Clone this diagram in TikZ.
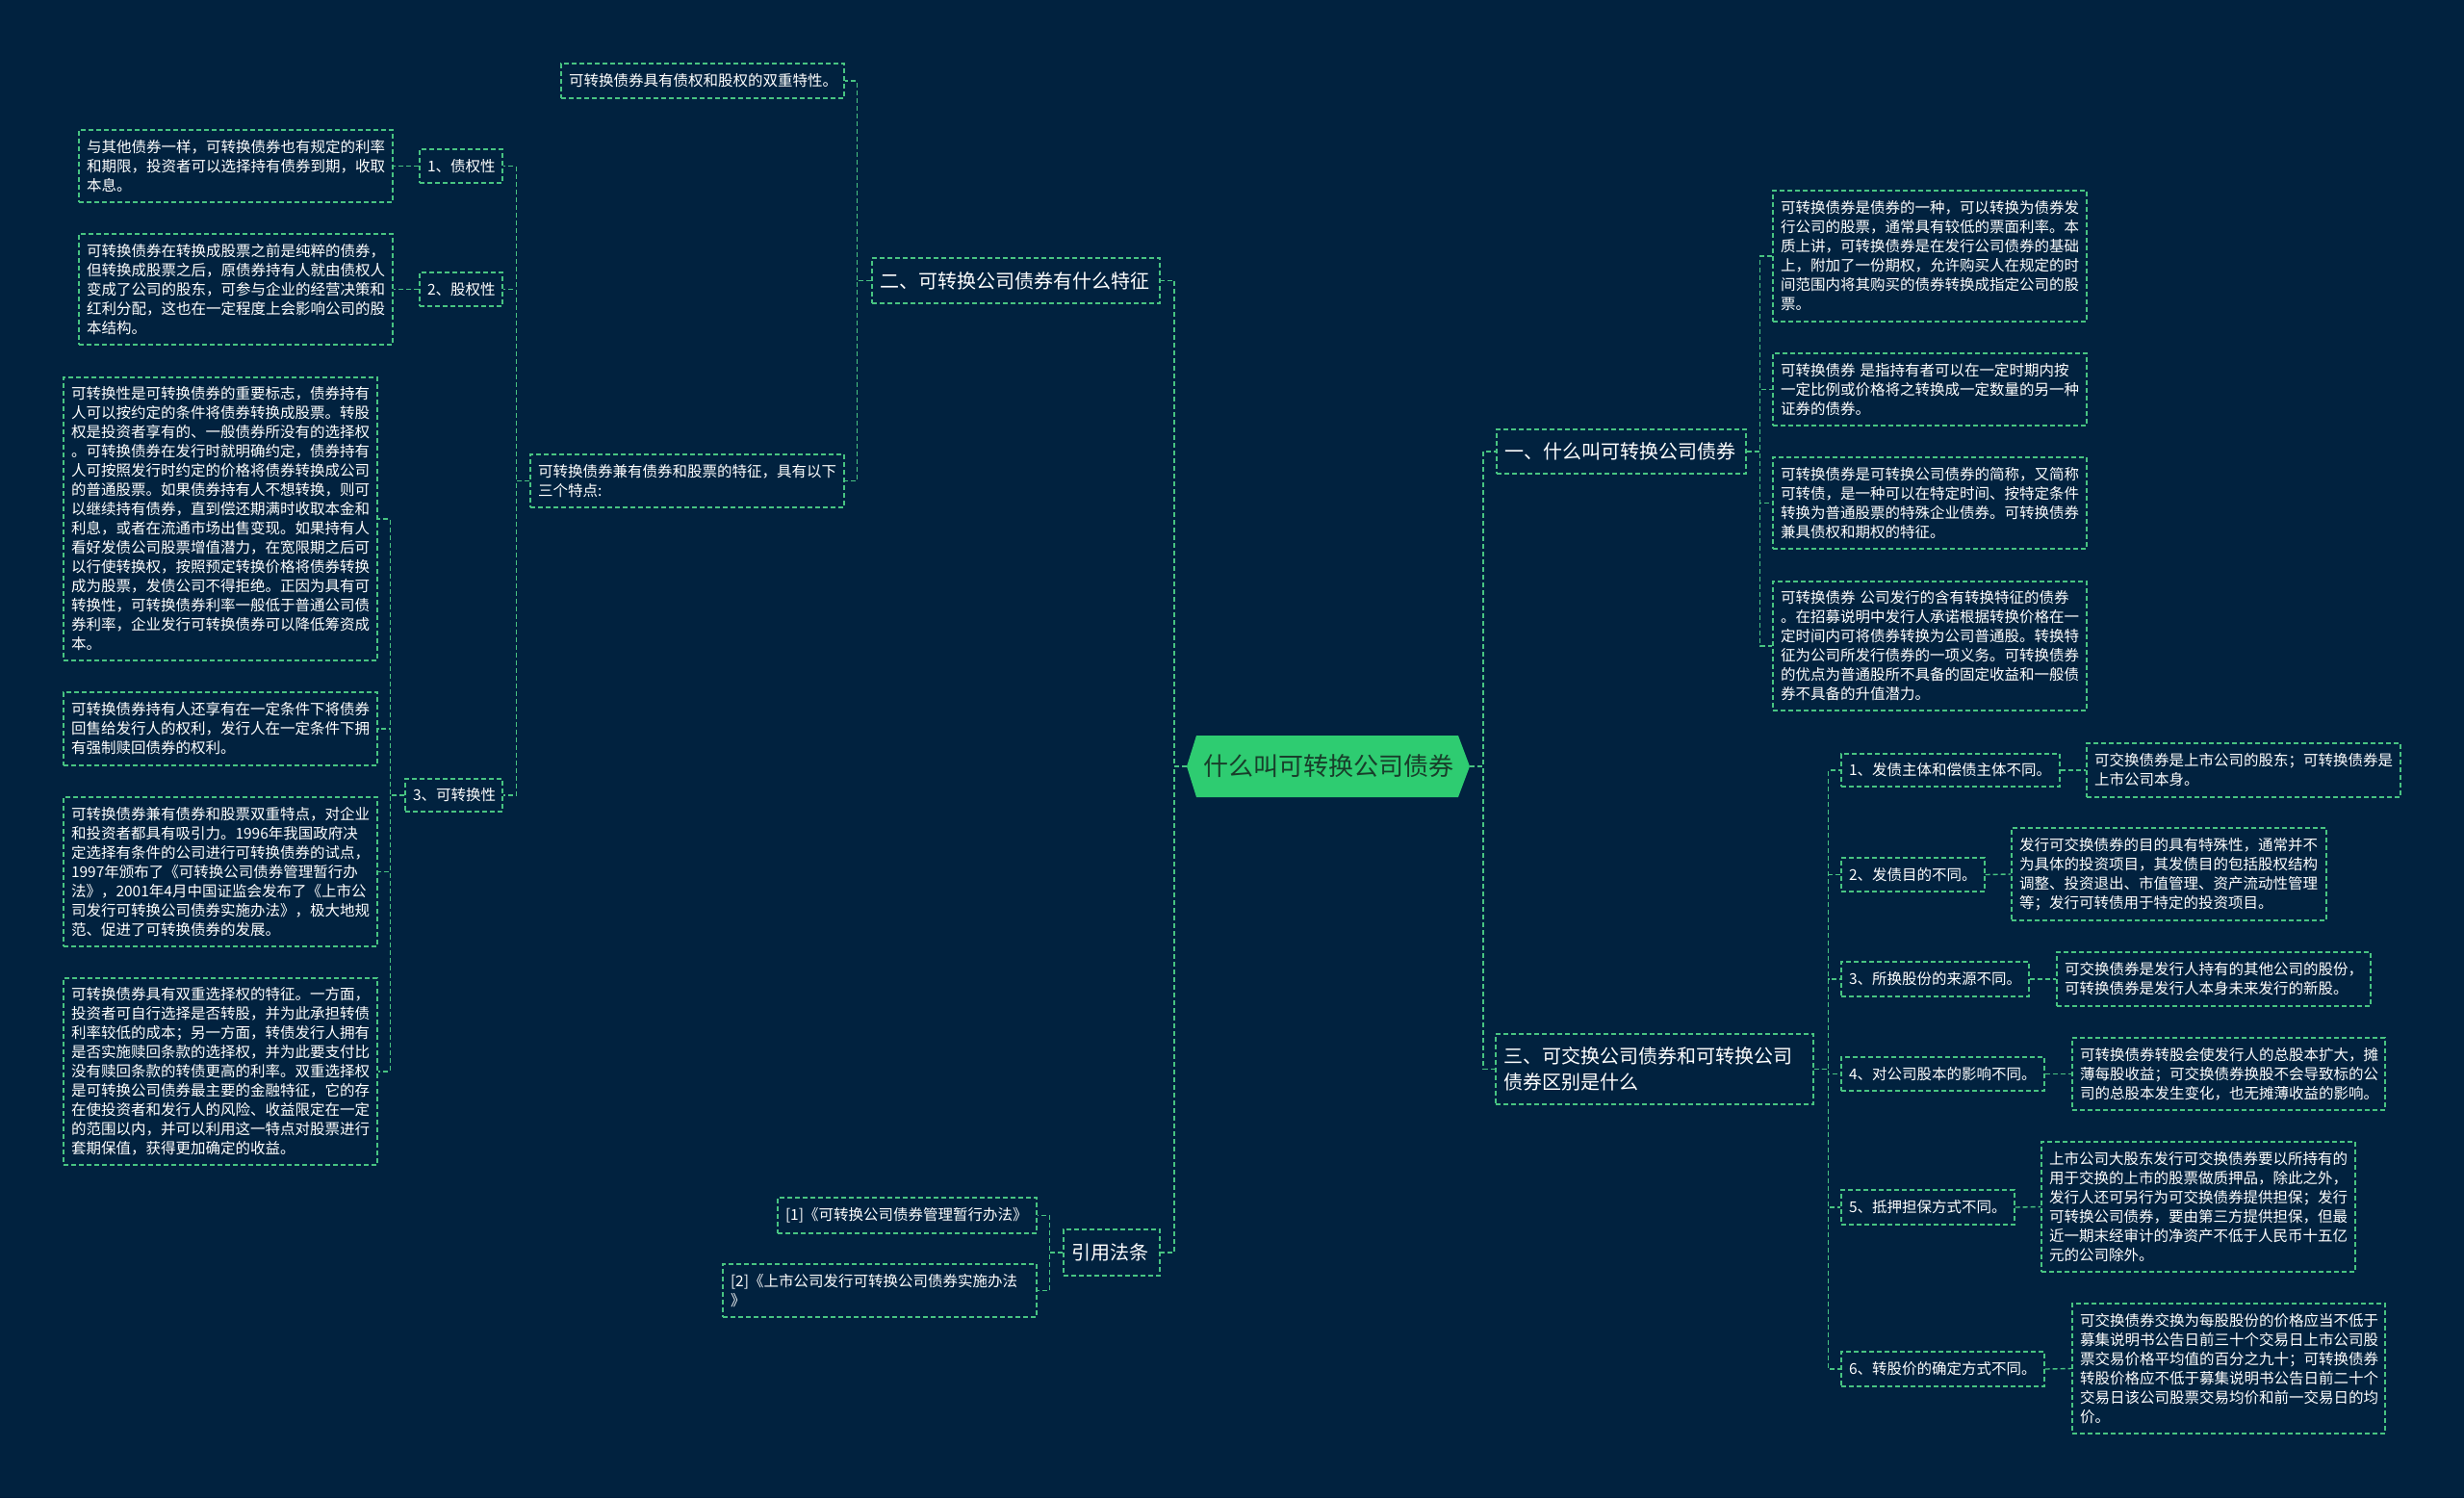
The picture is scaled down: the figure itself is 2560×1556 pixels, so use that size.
\documentclass[tikz,border=0pt]{standalone}
\usepackage{fontspec}
\newfontfamily\cjk{Noto Sans CJK SC}
\definecolor{bg}{RGB}{1,34,63}
\definecolor{lg}{RGB}{72,196,130}
\definecolor{cfill}{RGB}{46,204,113}
\definecolor{ctext}{RGB}{24,62,42}
\tikzset{
 box/.style={draw=lg, line width=1.4pt, dash pattern=on 5pt off 3pt, text=white, inner xsep=8pt, inner ysep=0pt, align=left, anchor=center, font=\cjk\fontsize{15.5}{20}\selectfont},
 head/.style={box, font=\cjk\fontsize{20}{27}\selectfont},
 conn/.style={draw=lg, line width=1.4pt, dash pattern=on 5pt off 3pt},
}
\newcommand\bx[7][box]{%
 \pgfmathsetmacro\bxw{#5-#3}\pgfmathsetmacro\bxh{#6-#4}%
 \pgfmathsetmacro\bxcx{(#3+#5)/2}\pgfmathsetmacro\bxcy{(#4+#6)/2}%
 \pgfmathsetmacro\bxtw{#5-#3-16}%
 \node[#1, minimum width=\bxw pt, minimum height=\bxh pt, text width=\bxtw pt] (#2) at (\bxcx,\bxcy) {#7};}
\begin{document}
\begin{tikzpicture}[x=1pt,y=-1pt]
\fill[bg] (0,0) rectangle (2560,1556);
\useasboundingbox (0,0) rectangle (2560,1556);
% center
\fill[cfill] (1233,796) -- (1243,764) -- (1515,764) -- (1527,796) -- (1515,828) -- (1243,828) -- cycle;
\node[text=ctext, font=\cjk\fontsize{26}{30}\selectfont, inner sep=0pt] (c) at (1380,796) {什么叫可转换公司债券};
\coordinate (cL) at (1233,796);
\coordinate (cR) at (1527,796);
% level 1
\bx[head]{n2}{906}{268}{1205}{315}{二、可转换公司债券有什么特征}
\bx[head]{n1}{1555}{446}{1814}{492}{一、什么叫可转换公司债券}
\bx[head]{n3}{1554}{1074}{1884}{1147}{三、可交换公司债券和可转换公司\\债券区别是什么}
\bx[head]{n4}{1105}{1277}{1205}{1325}{引用法条}
% branch 二
\bx{A1}{583}{66}{877}{102}{可转换债券具有债权和股权的双重特性。}
\bx{A2}{551}{472}{877}{527}{可转换债券兼有债券和股票的特征，具有以下\\三个特点:}
\bx{L1}{436}{155}{522}{190}{1、债权性}
\bx{L2}{436}{283}{522}{318}{2、股权性}
\bx{L3}{421}{809}{522}{843}{3、可转换性}
\bx{B1}{82}{135}{408}{210}{与其他债券一样，可转换债券也有规定的利率\\和期限，投资者可以选择持有债券到期，收取\\本息。}
\bx{B2}{82}{243}{408}{358}{可转换债券在转换成股票之前是纯粹的债券，\\但转换成股票之后，原债券持有人就由债权人\\变成了公司的股东，可参与企业的经营决策和\\红利分配，这也在一定程度上会影响公司的股\\本结构。}
\bx{C1}{66}{392}{392}{686}{可转换性是可转换债券的重要标志，债券持有\\人可以按约定的条件将债券转换成股票。转股\\权是投资者享有的、一般债券所没有的选择权\\。可转换债券在发行时就明确约定，债券持有\\人可按照发行时约定的价格将债券转换成公司\\的普通股票。如果债券持有人不想转换，则可\\以继续持有债券，直到偿还期满时收取本金和\\利息，或者在流通市场出售变现。如果持有人\\看好发债公司股票增值潜力，在宽限期之后可\\以行使转换权，按照预定转换价格将债券转换\\成为股票，发债公司不得拒绝。正因为具有可\\转换性，可转换债券利率一般低于普通公司债\\券利率，企业发行可转换债券可以降低筹资成\\本。}
\bx{C2}{66}{719}{392}{795}{可转换债券持有人还享有在一定条件下将债券\\回售给发行人的权利，发行人在一定条件下拥\\有强制赎回债券的权利。}
\bx{C3}{66}{828}{392}{983}{可转换债券兼有债券和股票双重特点，对企业\\和投资者都具有吸引力。1996年我国政府决\\定选择有条件的公司进行可转换债券的试点，\\1997年颁布了《可转换公司债券管理暂行办\\法》，2001年4月中国证监会发布了《上市公\\司发行可转换公司债券实施办法》，极大地规\\范、促进了可转换债券的发展。}
\bx{C4}{66}{1016}{392}{1210}{可转换债券具有双重选择权的特征。一方面，\\投资者可自行选择是否转股，并为此承担转债\\利率较低的成本；另一方面，转债发行人拥有\\是否实施赎回条款的选择权，并为此要支付比\\没有赎回条款的转债更高的利率。双重选择权\\是可转换公司债券最主要的金融特征，它的存\\在使投资者和发行人的风险、收益限定在一定\\的范围以内，并可以利用这一特点对股票进行\\套期保值，获得更加确定的收益。}
% branch 一
\bx{D1}{1842}{198}{2168}{334}{可转换债券是债券的一种，可以转换为债券发\\行公司的股票，通常具有较低的票面利率。本\\质上讲，可转换债券是在发行公司债券的基础\\上，附加了一份期权，允许购买人在规定的时\\间范围内将其购买的债券转换成指定公司的股\\票。}
\bx{D2}{1842}{367}{2168}{442}{可转换债券~是指持有者可以在一定时期内按\\一定比例或价格将之转换成一定数量的另一种\\证券的债券。}
\bx{D3}{1842}{475}{2168}{570}{可转换债券是可转换公司债券的简称，又简称\\可转债，是一种可以在特定时间、按特定条件\\转换为普通股票的特殊企业债券。可转换债券\\兼具债权和期权的特征。}
\bx{D4}{1842}{604}{2168}{738}{可转换债券~公司发行的含有转换特征的债券\\。在招募说明中发行人承诺根据转换价格在一\\定时间内可将债券转换为公司普通股。转换特\\征为公司所发行债券的一项义务。可转换债券\\的优点为普通股所不具备的固定收益和一般债\\券不具备的升值潜力。}
% branch 三
\bx{E1}{1913}{783}{2140}{817}{1、发债主体和偿债主体不同。}
\bx{E2}{1913}{891}{2062}{926}{2、发债目的不同。}
\bx{E3}{1913}{999}{2108}{1035}{3、所换股份的来源不同。}
\bx{E4}{1913}{1098}{2124}{1133}{4、对公司股本的影响不同。}
\bx{E5}{1913}{1236}{2093}{1272}{5、抵押担保方式不同。}
\bx{E6}{1913}{1404}{2124}{1440}{6、转股价的确定方式不同。}
\bx{F1}{2168}{772}{2494}{828}{可交换债券是上市公司的股东；可转换债券是\\上市公司本身。}
\bx{F2}{2090}{860}{2417}{956}{发行可交换债券的目的具有特殊性，通常并不\\为具体的投资项目，其发债目的包括股权结构\\调整、投资退出、市值管理、资产流动性管理\\等；发行可转债用于特定的投资项目。}
\bx{F3}{2137}{989}{2463}{1045}{可交换债券是发行人持有的其他公司的股份，\\可转换债券是发行人本身未来发行的新股。}
\bx{F4}{2153}{1078}{2478}{1153}{可转换债券转股会使发行人的总股本扩大，摊\\薄每股收益；可交换债券换股不会导致标的公\\司的总股本发生变化，也无摊薄收益的影响。}
\bx{F5}{2121}{1186}{2447}{1321}{上市公司大股东发行可交换债券要以所持有的\\用于交换的上市的股票做质押品，除此之外，\\发行人还可另行为可交换债券提供担保；发行\\可转换公司债券，要由第三方提供担保，但最\\近一期末经审计的净资产不低于人民币十五亿\\元的公司除外。}
\bx{F6}{2153}{1354}{2478}{1489}{可交换债券交换为每股股份的价格应当不低于\\募集说明书公告日前三十个交易日上市公司股\\票交易价格平均值的百分之九十；可转换债券\\转股价格应不低于募集说明书公告日前二十个\\交易日该公司股票交易均价和前一交易日的均\\价。}
% branch 引用法条
\bx{G1}{808}{1244}{1077}{1281}{[1]《可转换公司债券管理暂行办法》}
\bx{G2}{751}{1313}{1077}{1368}{[2]《上市公司发行可转换公司债券实施办法\\》}
% connectors
\draw[conn] (cL) -- ++(-13,0) |- (n2.east);
\draw[conn] (cL) -- ++(-13,0) |- (n4.east);
\draw[conn] (cR) -- ++(14,0) |- (n1.west);
\draw[conn] (cR) -- ++(14,0) |- (n3.west);
\foreach \ch in {A1,A2}{\draw[conn] (n2.west) -- ++(-15,0) |- (\ch.east);}
\foreach \ch in {L1,L2,L3}{\draw[conn] (A2.west) -- ++(-14,0) |- (\ch.east);}
\draw[conn] (L1.west) -- ++(-14,0) |- (B1.east);
\draw[conn] (L2.west) -- ++(-14,0) |- (B2.east);
\foreach \ch in {C1,C2,C3,C4}{\draw[conn] (L3.west) -- ++(-15,0) |- (\ch.east);}
\foreach \ch in {D1,D2,D3,D4}{\draw[conn] (n1.east) -- ++(14,0) |- (\ch.west);}
\foreach \ch in {E1,E2,E3,E4,E5,E6}{\draw[conn] (n3.east) -- ++(15,0) |- (\ch.west);}
\draw[conn] (E1.east) -- (F1.west);
\draw[conn] (E2.east) -- (F2.west);
\draw[conn] (E3.east) -- (F3.west);
\draw[conn] (E4.east) -- (F4.west);
\draw[conn] (E5.east) -- (F5.west);
\draw[conn] (E6.east) -- (F6.west);
\foreach \ch in {G1,G2}{\draw[conn] (n4.west) -- ++(-14,0) |- (\ch.east);}
\end{tikzpicture}
\end{document}
